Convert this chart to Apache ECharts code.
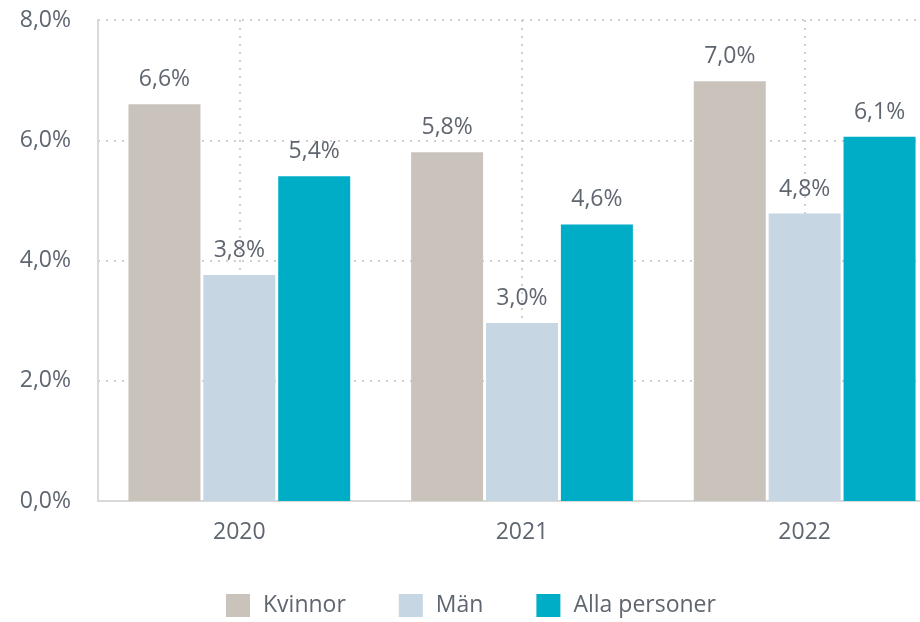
<!DOCTYPE html>
<html><head><meta charset="utf-8">
<script src="https://cdn.jsdelivr.net/npm/echarts@6/dist/echarts.min.js"></script>
<style>html,body{margin:0;padding:0;background:#fff}#c{width:920px;height:622px}</style>
</head><body><div id="c"></div>
<script>
const categories = ['2020', '2021', '2022'];
const kvinnor = [6.6, 5.8, 6.98];
const man = [3.76, 2.96, 4.78];
const alla = [5.4, 4.6, 6.06];
const seriesNames = ['Kvinnor', 'Män', 'Alla personer'];
const colors = ['#c9c3bc', '#c6d6e3', '#00adc7'];

const fmt = v => v.toFixed(1).replace('.', ',') + '%';
const font = '"Open Sans", sans-serif';
const textColor = '#5f6670';
const fs = 23;

const chart = echarts.init(document.getElementById('c'));
const mk = (name, data, color) => ({
  name, type: 'bar', data, barWidth: 72, barGap: '4%',
  itemStyle: { color },
  label: { show: true, position: 'top', distance: 13, formatter: p => fmt(p.value),
    fontFamily: font, fontSize: fs, color: textColor },
  emphasis: { disabled: true }
});
chart.setOption({
  animation: false,
  color: colors,
  grid: { left: 98, width: 848, top: 20, bottom: 121, containLabel: false, outerBoundsMode: 'none' },
  legend: {
    top: 589, left: 221, itemWidth: 24, itemHeight: 23, itemGap: 53,
    icon: 'rect',
    textStyle: { fontFamily: font, fontSize: fs, color: textColor, padding: [0, 0, 0, 8] },
    data: seriesNames
  },
  xAxis: {
    type: 'category', data: categories,
    axisLine: { lineStyle: { color: '#d9d9d9', width: 2 } },
    axisTick: { show: false },
    axisLabel: { fontFamily: font, fontSize: fs, color: textColor, margin: 20 },
    splitLine: { show: true, alignWithLabel: true, lineStyle: { color: '#cfcfcf', type: [2, 6], width: 2 } }
  },
  yAxis: {
    type: 'value', min: 0, max: 8, interval: 2,
    axisLine: { show: true, lineStyle: { color: '#d9d9d9', width: 2 } },
    axisTick: { show: false },
    axisLabel: { formatter: v => fmt(v), fontFamily: font, fontSize: fs, color: textColor, margin: 27 },
    splitLine: { show: true, lineStyle: { color: '#cfcfcf', type: [2, 6], width: 2 } }
  },
  series: [mk(seriesNames[0], kvinnor, colors[0]), mk(seriesNames[1], man, colors[1]), mk(seriesNames[2], alla, colors[2])]
});
</script></body></html>
